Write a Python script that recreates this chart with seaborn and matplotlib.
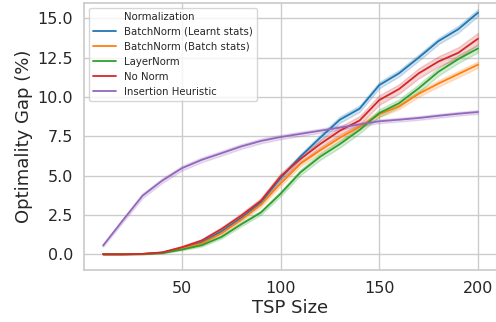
import numpy as np
import pandas as pd
import matplotlib
matplotlib.use("Agg")
import matplotlib.pyplot as plt
import seaborn as sns
from matplotlib.lines import Line2D

tsp_size = [10, 20, 30, 40, 50, 60, 70, 80, 90, 100, 110, 120, 130, 140, 150, 160, 170, 180, 190, 200]

series_names = ["BatchNorm (Learnt stats)", "BatchNorm (Batch stats)", "LayerNorm", "No Norm", "Insertion Heuristic"]

bn_learnt = [0.0, 0.0, 0.02, 0.1, 0.38, 0.75, 1.45, 2.3, 3.3, 4.85, 6.2, 7.4, 8.55, 9.25, 10.75, 11.5, 12.5, 13.55, 14.3, 15.35]
bn_batch = [0.0, 0.0, 0.02, 0.1, 0.36, 0.68, 1.33, 2.2, 3.15, 4.5, 5.75, 6.6, 7.4, 8.1, 8.9, 9.4, 10.2, 10.85, 11.45, 12.05]
layernorm = [0.0, 0.0, 0.01, 0.08, 0.3, 0.57, 1.1, 1.9, 2.65, 3.85, 5.2, 6.2, 7.0, 7.9, 8.97, 9.6, 10.55, 11.6, 12.4, 13.08]
no_norm = [0.0, 0.0, 0.02, 0.12, 0.45, 0.87, 1.6, 2.45, 3.4, 4.95, 6.05, 7.0, 7.85, 8.5, 9.8, 10.5, 11.5, 12.25, 12.8, 13.7]
insertion = [0.55, 2.15, 3.72, 4.68, 5.47, 6.0, 6.42, 6.85, 7.2, 7.45, 7.65, 7.85, 8.05, 8.25, 8.45, 8.55, 8.66, 8.8, 8.93, 9.04]

# half-widths of the shaded bands
bn_learnt_band = [0.01, 0.01, 0.01, 0.03, 0.05, 0.08, 0.1, 0.12, 0.14, 0.15, 0.17, 0.18, 0.2, 0.2, 0.2, 0.2, 0.2, 0.2, 0.22, 0.22]
bn_batch_band = [0.01, 0.01, 0.01, 0.03, 0.05, 0.08, 0.1, 0.12, 0.14, 0.15, 0.16, 0.17, 0.18, 0.18, 0.18, 0.18, 0.19, 0.2, 0.2, 0.2]
layernorm_band = [0.01, 0.01, 0.01, 0.03, 0.05, 0.08, 0.1, 0.12, 0.14, 0.16, 0.18, 0.2, 0.22, 0.22, 0.24, 0.24, 0.25, 0.25, 0.25, 0.25]
no_norm_band = [0.01, 0.01, 0.01, 0.03, 0.06, 0.1, 0.12, 0.15, 0.17, 0.2, 0.22, 0.24, 0.26, 0.28, 0.3, 0.3, 0.32, 0.33, 0.35, 0.37]
insertion_band = [0.08, 0.12, 0.15, 0.15, 0.15, 0.15, 0.15, 0.15, 0.15, 0.14, 0.14, 0.13, 0.13, 0.12, 0.12, 0.12, 0.12, 0.12, 0.12, 0.12]

means = [bn_learnt, bn_batch, layernorm, no_norm, insertion]
bands = [bn_learnt_band, bn_batch_band, layernorm_band, no_norm_band, insertion_band]

rows = []
for name, m, b in zip(series_names, means, bands):
    for x, v, d in zip(tsp_size, m, b):
        for s in (-1, 0, 1):
            rows.append({"TSP Size": x, "Optimality Gap (%)": v + s * d, "Normalization": name})
df = pd.DataFrame(rows)

sns.set_theme(style="whitegrid")
plt.rcParams['font.family'] = ['DejaVu Sans']

fig = plt.figure(figsize=(4.96, 3.22), dpi=100)
ax = fig.add_axes([84.3 / 496, 1 - 269.5 / 322, (496.7 - 84.3) / 496, (269.5 - 2.5) / 322])

palette = ["#1f77b4", "#ff7f0e", "#2ca02c", "#d62728", "#9467bd"]
sns.lineplot(data=df, x="TSP Size", y="Optimality Gap (%)", hue="Normalization",
             hue_order=series_names, palette=palette, errorbar=("pi", 100),
             linewidth=1.3, ax=ax)

ax.set_xlim(0.5, 209.5)
ax.set_ylim(-0.97, 16.0)
ax.set_xticks([50, 100, 150, 200])
ax.set_yticks([0.0, 2.5, 5.0, 7.5, 10.0, 12.5, 15.0])
ax.set_yticklabels(["0.0", "2.5", "5.0", "7.5", "10.0", "12.5", "15.0"])
ax.tick_params(labelsize=11.5, colors="#262626", length=0)
ax.tick_params(axis="y", pad=7.9)
ax.tick_params(axis="x", pad=8.3)
ax.set_xlabel("TSP Size", fontsize=13, color="#262626", labelpad=2)
ax.set_ylabel("Optimality Gap (%)", fontsize=13, color="#262626", labelpad=3.5)

handles, labels = ax.get_legend_handles_labels()
title_handle = Line2D([], [], linestyle="none", marker="")
leg = ax.legend([title_handle] + handles, ["Normalization"] + labels, loc="upper left",
                fontsize=7.3, handlelength=2.2, frameon=True)
for h in leg.legend_handles:
    h.set_linewidth(1.3)

fig.savefig("out.png", dpi=100)
